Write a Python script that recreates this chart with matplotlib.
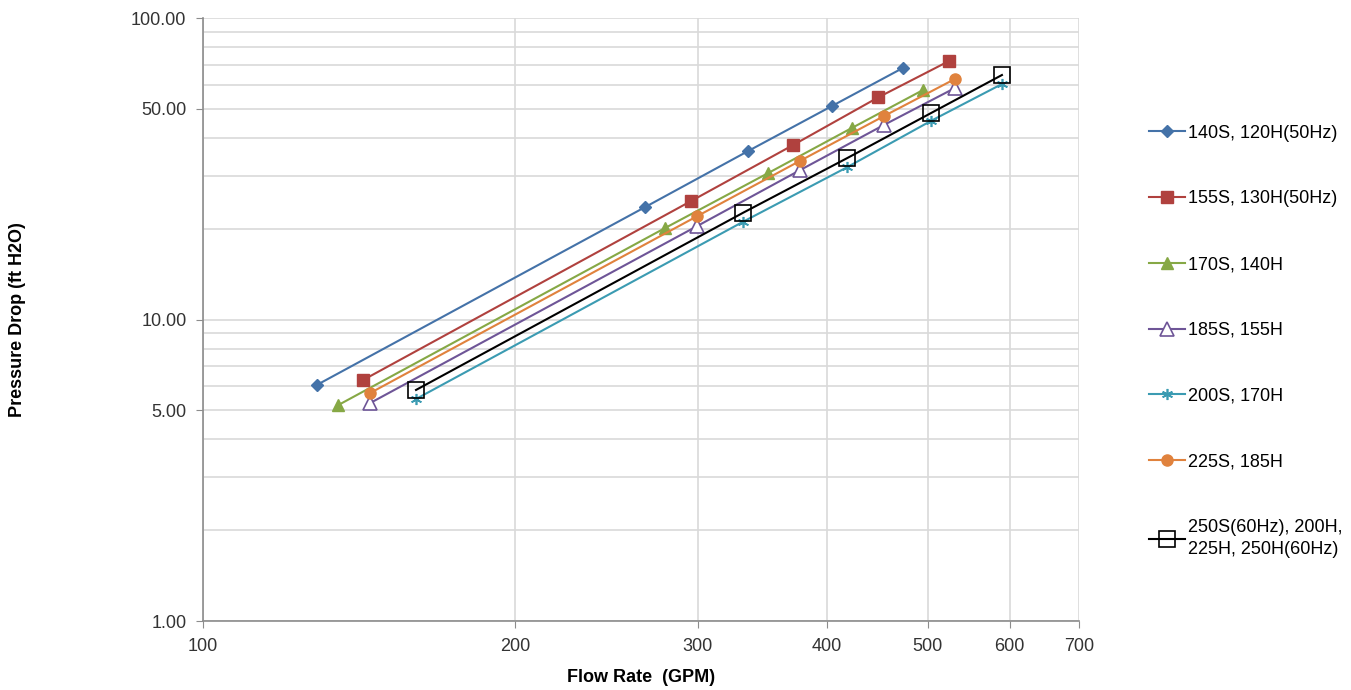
import matplotlib
matplotlib.use("Agg")
import matplotlib.pyplot as plt
from matplotlib.ticker import FixedLocator, FixedFormatter, NullFormatter

plt.rcParams['font.family'] = ['Liberation Sans', 'DejaVu Sans']

# values (flow rate GPM, pressure drop ft H2O)
labels = ['140S, 120H(50Hz)', '155S, 130H(50Hz)', '170S, 140H', '185S, 155H',
          '200S, 170H', '225S, 185H', '250S(60Hz), 200H,\n225H, 250H(60Hz)']

flow_140s = [128.8, 267, 335.6, 404.5, 473.4]
dp_140s = [6.07, 23.6, 36.2, 51.1, 68.3]

flow_155s = [142.7, 295.6, 370.9, 447.9, 524.4]
dp_155s = [6.30, 24.7, 37.9, 54.5, 72.0]

flow_170s = [135, 279, 350.9, 422.7, 495]
dp_170s = [5.20, 20.1, 30.6, 43.2, 57.7]

flow_185s = [144.9, 299.6, 376.7, 453.9, 531.4]
dp_185s = [5.28, 20.4, 31.3, 44.2, 58.6]

flow_200s = [160.5, 331.9, 418.2, 503.9, 589.8]
dp_200s = [5.45, 21.1, 32.0, 45.6, 60.4]

flow_225s = [144.9, 299.6, 376.7, 453.9, 531.4]
dp_225s = [5.70, 22.0, 33.6, 47.3, 62.8]

flow_250s = [160.5, 331.9, 418.2, 503.9, 589.8]
dp_250s = [5.84, 22.6, 34.3, 48.4, 64.7]

fig = plt.figure(figsize=(13.51, 6.90), dpi=100)
ax = fig.add_axes([0.1503, 0.1, 0.6484, 0.8739])

ax.plot(flow_140s, dp_140s, color='#4472a8', lw=1.5, marker='D', ms=6, label=labels[0])
ax.plot(flow_155s, dp_155s, color='#b0413e', lw=1.5, marker='s', ms=8, label=labels[1])
ax.plot(flow_170s, dp_170s, color='#86a845', lw=1.5, marker='^', ms=8, label=labels[2])
ax.plot(flow_185s, dp_185s, color='#6e5597', lw=1.5, marker='^', ms=10, mfc='white',
        mew=1.2, label=labels[3])
ax.plot(flow_200s, dp_200s, color='#3b9bb2', lw=1.5, marker=(6, 2, 0), ms=8, mew=1.2,
        label=labels[4])
ax.plot(flow_225s, dp_225s, color='#e0823d', lw=1.5, marker='o', ms=8, label=labels[5])
ax.plot(flow_250s, dp_250s, color='black', lw=1.5, marker='s', ms=11, mfc='none',
        mew=1.2, label=labels[6])

ax.set_xscale('log')
ax.set_yscale('log')
ax.set_xlim(100, 700)
ax.set_ylim(1, 100)

xt = [100, 200, 300, 400, 500, 600, 700]
ax.xaxis.set_major_locator(FixedLocator(xt))
ax.xaxis.set_major_formatter(FixedFormatter([str(v) for v in xt]))
ax.xaxis.set_minor_locator(FixedLocator([]))
ax.xaxis.set_minor_formatter(NullFormatter())

ax.yaxis.set_major_locator(FixedLocator([1, 5, 10, 50, 100]))
ax.yaxis.set_major_formatter(FixedFormatter(['1.00', '5.00', '10.00', '50.00', '100.00']))
ax.yaxis.set_minor_locator(FixedLocator([2, 3, 4, 6, 7, 8, 9, 20, 30, 40, 60, 70, 80, 90]))
ax.yaxis.set_minor_formatter(NullFormatter())

ax.grid(True, which='both', color='#d9d9d9', lw=1.2)
ax.set_axisbelow(True)
for s in ['top', 'right']:
    ax.spines[s].set_visible(False)
for s in ['left', 'bottom']:
    ax.spines[s].set_color('#8c8c8c')
    ax.spines[s].set_linewidth(1.2)
ax.tick_params(which='major', length=5, color='#8c8c8c', labelsize=13, labelcolor='#333333', pad=7)
ax.tick_params(which='minor', length=0)

ax.set_xlabel('Flow Rate  (GPM)', fontsize=13, fontweight='bold', labelpad=10)
ax.set_ylabel('Pressure Drop (ft H2O)', fontsize=13, fontweight='bold')
ax.yaxis.set_label_coords(-0.202, 0.5)

leg = ax.legend(loc='upper left', bbox_to_anchor=(1.072, 0.835), frameon=False, fontsize=13,
                labelspacing=2.7, handlelength=1.95, handletextpad=0.2, borderaxespad=0)
for t in leg.get_texts():
    t.set_linespacing(1.4)

fig.savefig('out.png', dpi=100)
